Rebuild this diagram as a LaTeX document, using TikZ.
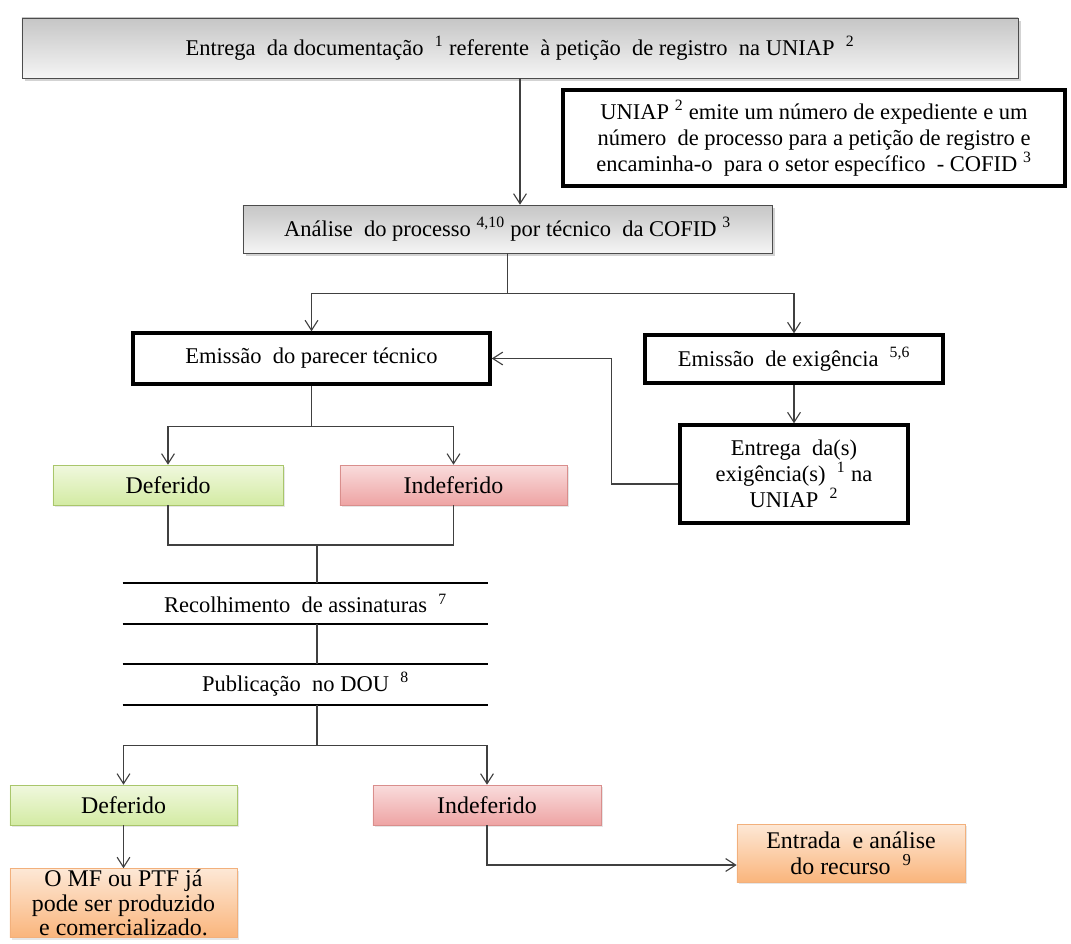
\documentclass[tikz,border=0pt]{standalone}
\usepackage{fontspec}
\setmainfont{Liberation Serif}
\usetikzlibrary{arrows.meta,shadows}
\definecolor{okline}{HTML}{A9C66B}
\definecolor{oktop}{HTML}{F0F8DE}
\definecolor{okbot}{HTML}{D3EBA3}
\definecolor{noline}{HTML}{D98E8C}
\definecolor{notop}{HTML}{F9DCDC}
\definecolor{nobot}{HTML}{EEA4A4}
\definecolor{reline}{HTML}{F2B07C}
\definecolor{retop}{HTML}{FDE8D6}
\definecolor{rebot}{HTML}{FAB57C}

\begin{document}
\begin{tikzpicture}[x=0.025cm,y=-0.025cm,
					every node/.style={font=\fontsize{16}{18.5}\selectfont,inner sep=2pt},
					big/.style={font=\fontsize{17}{18.5}\selectfont},
					graybox/.style={draw=gray!60!black,top color=gray!45,bottom color=gray!8,
						drop shadow={opacity=.35,shadow xshift=2pt,shadow yshift=-2pt}},
					heavybox/.style={draw,line width=2.4pt,fill=white},
					okbox/.style={big,draw=okline,top color=oktop,bottom color=okbot,minimum height=1cm,
						drop shadow={opacity=.2,shadow xshift=1.5pt,shadow yshift=-1.5pt}},
					nobox/.style={big,draw=noline,top color=notop,bottom color=nobot,minimum height=1cm,
						drop shadow={opacity=.2,shadow xshift=1.5pt,shadow yshift=-1.5pt}},
					resbox/.style={big,draw=reline,top color=retop,bottom color=rebot,align=center,
						drop shadow={opacity=.2,shadow xshift=1.5pt,shadow yshift=-1.5pt}},
					rule/.style={line width=1.5pt},
					link/.style={draw=black!75,line width=.8pt},
					arr/.style={link,-{Straight Barb[length=.25cm,width=.32cm]}}]
					\useasboundingbox (0,0) rectangle (1071,943);
					\node[graybox,minimum width=24.9cm,minimum height=1.5cm] (entrega) at (520,48)
						{Entrega~ da documentação~ \textsuperscript{1} referente~ à petição~ de registro~ na UNIAP~ \textsuperscript{2}};
					\node[heavybox,minimum width=12.55cm,minimum height=2.4cm,align=center] (uniap) at (814,138)
						{UNIAP \textsuperscript{2} emite um número de expediente e um\\número~ de processo para a petição de registro e\\encaminha-o~ para o setor específico~ - COFID \textsuperscript{3}};
					\node[graybox,minimum width=13.225cm,minimum height=1.2cm] (analise) at (507.5,229)
						{Análise~ do processo \textsuperscript{4,10} por técnico~ da COFID \textsuperscript{3}};
					\node[heavybox,minimum width=8.925cm,minimum height=1.275cm] (parecer) at (311.5,358.5) {Emissão~ do parecer técnico};
					\node[heavybox,minimum width=7.45cm,minimum height=1.2cm] (exig) at (794,359) {Emissão~ de exigência~ \textsuperscript{5,6}};
					\node[heavybox,minimum width=5.7cm,minimum height=2.45cm,align=center] (entregaex) at (794,474)
						{Entrega~ da(s)\\exigência(s)~ \textsuperscript{1} na\\UNIAP~ \textsuperscript{2}};
					\node[okbox,minimum width=5.75cm] (def1) at (168,485) {Deferido};
					\node[nobox,minimum width=5.675cm] (indef1) at (453.5,485) {Indeferido};
					\node[minimum width=9.125cm,minimum height=1cm] (rec) at (305.5,603.5) {Recolhimento~ de assinaturas~ \textsuperscript{7}};
					\node[minimum width=9.125cm,minimum height=1.025cm] (pub) at (305.5,684.5) {Publicação~ no DOU~ \textsuperscript{8}};
					\node[okbox,minimum width=5.675cm] (def2) at (123.5,805) {Deferido};
					\node[nobox,minimum width=5.7cm] (indef2) at (487,805) {Indeferido};
					\node[resbox,font=\fontsize{17}{17.5}\selectfont,inner sep=1pt,minimum width=5.675cm] (final) at (123.5,903)
						{O MF ou PTF já\\pode ser produzido\\e comercializado.};
					\node[resbox,minimum width=5.7cm,minimum height=1.45cm] (recurso) at (851,853)
						{Entrada~ e análise\\do recurso~ \textsuperscript{9}};
					\draw[rule] (rec.north west) -- (rec.north east) (rec.south west) -- (rec.south east)
						(pub.north west) -- (pub.north east) (pub.south west) -- (pub.south east);
					\coordinate (j3) at (317,545);
					\draw[arr] (entrega.south) -- (entrega.south |- analise.north);
					\draw[link] (analise.south) -- ++(0,40) coordinate (j1);
					\draw[arr] (j1) -| (parecer.north);
					\draw[arr] (j1) -| (exig.north);
					\draw[arr] (exig) -- (entregaex);
					\draw[arr] ([yshift=-.25cm]entregaex.west) -- ++(-67,0) |- (parecer.east);
					\draw[link] (parecer.south) -- ++(0,41) coordinate (j2);
					\draw[arr] (j2) -| (def1.north);
					\draw[arr] (j2) -| (indef1.north);
					\draw[link] (def1.south) |- (j3) -| (indef1.south);
					\draw[link] (j3) -- (j3 |- rec.north);
					\draw[link] (rec.south -| j3) -- (pub.north -| j3);
					\draw[link] (pub.south -| j3) -- ++(0,40) coordinate (j4);
					\draw[arr] (j4) -| (def2.north);
					\draw[arr] (j4) -| (indef2.north);
					\draw[arr] (def2) -- (final);
					\draw[arr] (indef2.south) |- ([yshift=-.3cm]recurso.west);
\end{tikzpicture}
\end{document}
